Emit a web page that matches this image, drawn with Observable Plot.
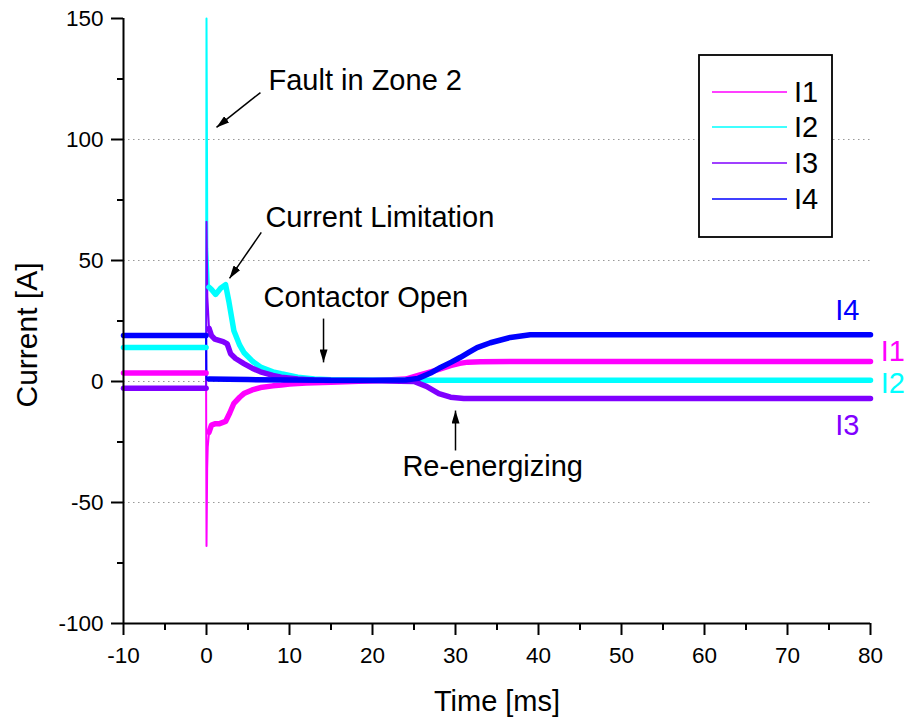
<!DOCTYPE html>
<html>
<head>
<meta charset="utf-8">
<script src="https://cdn.jsdelivr.net/npm/d3@7"></script>
<script src="https://cdn.jsdelivr.net/npm/@observablehq/plot@0.6"></script>
<style>
  html, body { margin: 0; padding: 0; background: #fff; }
  #chart { position: relative; width: 909px; height: 721px; }
  svg { font-family: "Liberation Sans", Arial, sans-serif; }
</style>
</head>
<body>
<div id="chart"></div>
<script>
// ---------- data ----------
const seriesNames = ["I1", "I2", "I3", "I4"];
const seriesColors = ["#ff00ff", "#00ffff", "#8000ff", "#0000ff"];

const t_I1 = [-10, -5, -0.05, 0, 0.08, 0.15, 0.3, 0.6, 1, 1.5, 2.3, 2.8, 3.3, 4, 4.5, 5.5, 6.5, 8, 9, 10, 12, 15, 20, 24, 25.5, 27, 28, 29.4, 30.5, 31.5, 33, 40, 50, 60, 70, 80];
const v_I1 = [3.5, 3.5, 3.5, -68, -36, -27, -21, -18, -17.5, -17.5, -16.5, -13, -9, -6.5, -5, -3.5, -2.5, -1.8, -1.5, -1, -0.6, -0.3, 0.3, 1, 2.5, 4, 5, 6.6, 7.5, 8, 8.2, 8.3, 8.3, 8.3, 8.3, 8.3];

const t_I2 = [-10, -0.05, 0, 0.1, 0.3, 0.6, 1.1, 1.7, 2.3, 2.7, 3.3, 4, 4.5, 5.5, 6.5, 8, 9, 11, 13, 15, 20, 25, 30, 40, 80];
const v_I2 = [14, 14, 150, 55, 39, 38, 36, 38.5, 40, 33, 21, 15, 12, 8.5, 6, 4, 3.2, 1.8, 1, 0.7, 0.5, 0.5, 0.5, 0.5, 0.5];

const t_I3 = [-10, -0.05, 0, 0.1, 0.3, 0.6, 1, 2, 2.5, 2.9, 3.5, 4.5, 5.5, 6.5, 8, 9, 11, 13, 15, 20, 25, 26.5, 28, 29.4, 31, 35, 80];
const v_I3 = [-2.8, -2.8, 66, 35, 22, 19, 17.5, 16.5, 15.5, 11.5, 9.5, 7.4, 5.5, 4, 2.5, 1.8, 1, 0.6, 0.4, 0.3, 0, -2, -5, -6.5, -7, -7, -7];

const t_I4 = [-10, -0.05, 0, 0.3, 5, 10, 15, 20, 24, 25.5, 27, 28.2, 29.5, 30.6, 31.6, 32.6, 34.2, 36.6, 39, 45, 80];
const v_I4 = [19, 19, 1, 1, 0.8, 0.6, 0.5, 0.5, 0.6, 1.3, 3.5, 5.8, 8, 10, 12, 14, 16, 18.2, 19.3, 19.3, 19.3];

const xMajor = [-10, 0, 10, 20, 30, 40, 50, 60, 70, 80];
const xMinor = [-5, 5, 15, 25, 35, 45, 55, 65, 75];
const yMajor = [-100, -50, 0, 50, 100, 150];
const yMinor = [-75, -25, 25, 75, 125];
const gridY = [-50, 0, 50, 100];

// annotations (data coordinates)
const annoText = ["Fault in Zone 2", "Current Limitation", "Contactor Open", "Re-energizing"];
const annoT = [7.47, 7.1, 6.87, 23.6];
const annoV = [124.4, 67.8, 34.7, -35.1];
const arrowT1 = [6.5, 6.6, 14.1, 30.0];
const arrowV1 = [119.4, 61.6, 26, -28.5];
const arrowT2 = [1.2, 2.77, 14.1, 30.0];
const arrowV2 = [105, 42.6, 7.9, -12];

// end labels
const endLabelT = [82.7, 82.7, 77.2, 77.2];
const endLabelV = [12.2, -0.8, -18.2, 29.3];

// ---------- build table ----------
const tArr = {I1: t_I1, I2: t_I2, I3: t_I3, I4: t_I4};
const vArr = {I1: v_I1, I2: v_I2, I3: v_I3, I4: v_I4};
const rows = [];
for (const s of seriesNames) {
  tArr[s].forEach((t, i) => rows.push({series: s, t, v: vArr[s][i],
    seg: t <= -0.05 ? "pre" : (t >= 0.3 ? "post" : "spike")}));
}
const bandRows = rows.filter(d => d.seg !== "spike");
const annos = annoText.map((txt, i) => ({txt, t: annoT[i], v: annoV[i]}));
const arrows = annoText.map((txt, i) => ({t1: arrowT1[i], v1: arrowV1[i], t2: arrowT2[i], v2: arrowV2[i]}));
const endLabels = seriesNames.map((s, i) => ({s, t: endLabelT[i], v: endLabelV[i], c: seriesColors[i]}));

const colorScale = {domain: seriesNames, range: seriesColors};

const chart = Plot.plot({
  width: 909,
  height: 721,
  marginLeft: 123,
  marginRight: 39,
  marginTop: 18,
  marginBottom: 98,
  x: {domain: [-10, 80]},
  y: {domain: [-100, 150]},
  color: colorScale,
  style: {fontFamily: "'Liberation Sans', Arial, sans-serif", fontSize: "22.5px", background: "white", overflow: "visible", color: "black"},
  marks: [
    Plot.ruleY(gridY, {stroke: "#999", strokeWidth: 1.2, strokeDasharray: "1.5,3.5"}),
    // thin lines (includes spikes)
    ...seriesNames.map(s => Plot.line(rows.filter(d => d.series === s), {x: "t", y: "v", stroke: "series", strokeWidth: 2})),
    // thick noisy bands (no spike)
    ...seriesNames.map(s => Plot.line(bandRows.filter(d => d.series === s), {x: "t", y: "v", z: "seg", stroke: "series", strokeWidth: 5.5, strokeLinejoin: "round"})),
    Plot.axisX({ticks: xMajor, tickSize: 12, tickPadding: 12, tickFormat: d => String(d), label: null, strokeWidth: 2, fontSize: 22.5}),
    Plot.axisX({ticks: xMinor, tickSize: 7, tickFormat: () => "", label: null, strokeWidth: 2}),
    Plot.axisY({ticks: yMajor, tickSize: 12, tickPadding: 8, tickFormat: d => String(d), label: null, strokeWidth: 2, fontSize: 22.5}),
    Plot.axisY({ticks: yMinor, tickSize: 6, tickFormat: () => "", label: null, strokeWidth: 2}),
    Plot.ruleX([-10], {stroke: "black", strokeWidth: 2}),
    Plot.ruleY([-100], {stroke: "black", strokeWidth: 2}),
    Plot.text(annos, {x: "t", y: "v", text: "txt", textAnchor: "start", fontSize: 29, fill: "black"}),
    Plot.link(arrows, {x1: "t1", y1: "v1", x2: "t2", y2: "v2", stroke: "black", strokeWidth: 1.5}),
    Plot.text(endLabels, {x: "t", y: "v", text: "s", fill: "c", fontSize: 29})
  ]
});

document.getElementById("chart").appendChild(chart);

// filled arrow heads for the annotation links
const svg = d3.select(chart);
const defs = svg.append("defs");
defs.append("marker")
  .attr("id", "ahead")
  .attr("viewBox", "0 0 13 8")
  .attr("refX", 13).attr("refY", 4)
  .attr("markerWidth", 13).attr("markerHeight", 8)
  .attr("markerUnits", "userSpaceOnUse")
  .attr("orient", "auto")
  .append("path").attr("d", "M0,0L13,4L0,8z").attr("fill", "black");
svg.selectAll("g[aria-label='link'] path").attr("marker-end", "url(#ahead)");

// axis titles
svg.append("text")
  .attr("x", 497).attr("y", 711)
  .attr("text-anchor", "middle")
  .attr("font-size", 29)
  .text("Time [ms]");
svg.append("text")
  .attr("transform", "translate(37,335) rotate(-90)")
  .attr("text-anchor", "middle")
  .attr("font-size", 30)
  .text("Current [A]");

// legend box
const lg = svg.append("g");
lg.append("rect").attr("x", 699).attr("y", 55).attr("width", 133).attr("height", 182)
  .attr("fill", "white").attr("stroke", "black").attr("stroke-width", 1.8);
const legendY = [92, 127, 163, 199];
seriesNames.forEach((s, i) => {
  lg.append("line").attr("x1", 712).attr("x2", 787).attr("y1", legendY[i]).attr("y2", legendY[i])
    .attr("stroke", seriesColors[i]).attr("stroke-width", 1.5);
  lg.append("text").attr("x", 794).attr("y", legendY[i]).attr("dy", "0.36em")
    .attr("text-anchor", "start")
    .attr("font-size", 29).attr("fill", "black").text(s);
});
</script>
</body>
</html>
